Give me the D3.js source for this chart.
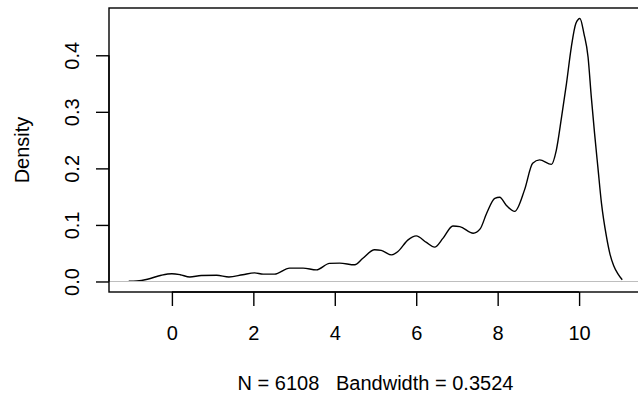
<!DOCTYPE html>
<html>
<head>
<meta charset="utf-8">
<script src="https://cdn.jsdelivr.net/npm/d3@7"></script>
<style>
  body { margin: 0; background: #fff; }
  svg text { font-family: "Liberation Sans", Arial, sans-serif; fill: #000; white-space: pre; }
</style>
</head>
<body>
<div id="chart"></div>
<script>
// density estimate
const densityX = [-1.06, -0.86, -0.6, -0.26, 0.0, 0.2, 0.44, 0.72, 1.1, 1.4, 1.74, 2.03, 2.24, 2.52,
  2.89, 3.22, 3.55, 3.87, 4.12, 4.49, 4.69, 4.98, 5.14, 5.39, 5.55, 5.8, 6.0, 6.25, 6.45, 6.66,
  6.9, 7.07, 7.4, 7.57, 7.73, 7.93, 8.05, 8.21, 8.42, 8.66, 8.86, 9.03, 9.32, 9.44, 9.57, 9.69,
  9.81, 9.92, 10.02, 10.12, 10.22, 10.3, 10.38, 10.46, 10.55, 10.67, 10.76, 10.85, 10.95, 11.06];
const densityY = [0.0005, 0.001, 0.004, 0.011, 0.0136, 0.012, 0.008, 0.0106, 0.011, 0.008, 0.012, 0.0153, 0.013, 0.013,
  0.0236, 0.0236, 0.0206, 0.032, 0.0325, 0.0295, 0.041, 0.056, 0.055, 0.047, 0.053, 0.0736, 0.0806, 0.069, 0.0607, 0.0766,
  0.098, 0.097, 0.0854, 0.093, 0.1207, 0.147, 0.149, 0.135, 0.124, 0.162, 0.209, 0.215, 0.207, 0.232, 0.291, 0.35,
  0.415, 0.456, 0.465, 0.438, 0.397, 0.326, 0.262, 0.203, 0.138, 0.08, 0.048, 0.028, 0.014, 0.003];

const xTicks = [0, 2, 4, 6, 8, 10];
const yTicks = [0, 0.1, 0.2, 0.3, 0.4];
const yTickLabels = ["0.0", "0.1", "0.2", "0.3", "0.4"];
const yTitle = "Density";
const subTitle = "N = 6108   Bandwidth = 0.3524";

const width = 638, height = 398;
const plotL = 109, plotR = 642, plotT = 8, plotB = 292;

const svg = d3.select("#chart").append("svg")
  .attr("width", width)
  .attr("height", height);

// R pads the data range by 4% on each side
const xMin = d3.min(densityX), xMax = d3.max(densityX);
const xPad = (xMax - xMin) * 0.04;
const x = d3.scaleLinear().domain([xMin - xPad, xMax + xPad]).range([plotL, plotR]);

const yMax = d3.max(densityY);
const yPad = yMax * 0.04;
const y = d3.scaleLinear().domain([-yPad, yMax + yPad]).range([plotB, plotT]);

// curve
const pts = densityX.map((d, i) => [d, densityY[i]]);
svg.append("path")
  .datum(pts)
  .attr("fill", "none")
  .attr("stroke", "#000")
  .attr("stroke-width", 1.4)
  .attr("d", d3.line().x(d => x(d[0])).y(d => y(d[1])).curve(d3.curveMonotoneX));

// zero line, drawn over the curve like R does
svg.append("line")
  .attr("x1", plotL).attr("x2", plotR)
  .attr("y1", y(0)).attr("y2", y(0))
  .attr("stroke", "#bebebe")
  .attr("stroke-width", 1.2);

// box
svg.append("rect")
  .attr("x", plotL).attr("y", plotT)
  .attr("width", plotR - plotL).attr("height", plotB - plotT)
  .attr("fill", "none")
  .attr("stroke", "#000")
  .attr("stroke-width", 1.4);

// x axis
const gx = svg.append("g")
  .attr("transform", "translate(0," + plotB + ")")
  .call(d3.axisBottom(x).tickValues(xTicks).tickSize(14).tickPadding(20).tickFormat(d3.format("d")));
gx.select(".domain").attr("d", "M" + x(0) + ",0H" + x(10)).attr("stroke-width", 1.4);
gx.selectAll(".tick line").attr("stroke-width", 1.4);
gx.selectAll("text").attr("font-size", 20).attr("font-family", "Liberation Sans, Arial, sans-serif");

// y axis
const gy = svg.append("g")
  .attr("transform", "translate(" + plotL + ",0)")
  .call(d3.axisLeft(y).tickValues(yTicks).tickSize(13).tickFormat((d, i) => yTickLabels[i]));
gy.select(".domain").attr("d", "M0," + y(0) + "V" + y(0.4)).attr("stroke-width", 1.4);
gy.selectAll(".tick line").attr("stroke-width", 1.4);
gy.selectAll("text")
  .attr("font-size", 20)
  .attr("font-family", "Liberation Sans, Arial, sans-serif")
  .attr("x", null).attr("dy", null)
  .attr("text-anchor", "middle")
  .attr("dominant-baseline", "central")
  .attr("transform", "translate(-37,0) rotate(-90)");

// titles
svg.append("text")
  .attr("transform", "translate(22," + ((plotT + plotB) / 2) + ") rotate(-90)")
  .attr("text-anchor", "middle")
  .attr("dominant-baseline", "central")
  .attr("font-size", 20)
  .text(yTitle);

svg.append("text")
  .attr("x", (plotL + plotR) / 2)
  .attr("y", 383)
  .attr("text-anchor", "middle")
  .attr("dominant-baseline", "central")
  .attr("font-size", 20)
  .attr("xml:space", "preserve")
  .text(subTitle);
</script>
</body>
</html>
